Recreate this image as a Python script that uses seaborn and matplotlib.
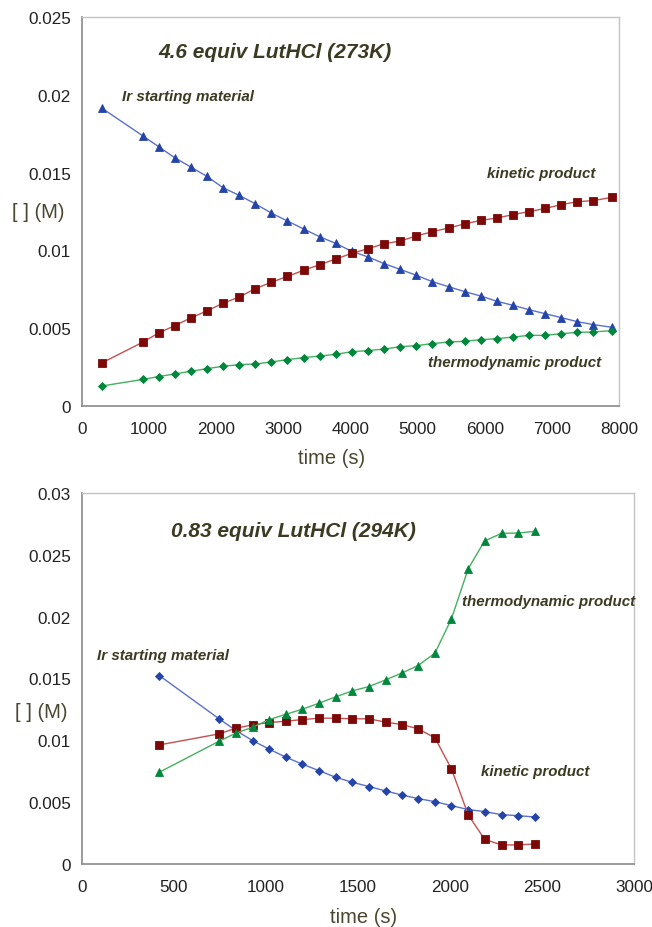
import numpy as np
import pandas as pd
import matplotlib
matplotlib.use('Agg')
import matplotlib.pyplot as plt
import matplotlib.ticker as mticker
import seaborn as sns

# Datos — panel superior (4.6 equiv, 273 K)
t_top = [300, 910, 1140, 1380, 1620, 1860, 2100, 2340, 2580, 2820, 3060, 3300,
         3540, 3780, 4020, 4260, 4500, 4740, 4980, 5220, 5460, 5700, 5940, 6180,
         6420, 6660, 6900, 7140, 7380, 7620, 7890]
ir_top = [0.01913, 0.01735, 0.01667, 0.01596, 0.01536, 0.01476, 0.01403, 0.01354,
          0.01300, 0.01240, 0.01189, 0.01138, 0.01088, 0.01045, 0.00994, 0.00958,
          0.00915, 0.00878, 0.00840, 0.00799, 0.00767, 0.00735, 0.00707, 0.00673,
          0.00647, 0.00619, 0.00593, 0.00568, 0.00542, 0.00523, 0.00506]
kin_top = [0.00278, 0.00411, 0.00469, 0.00516, 0.00566, 0.00611, 0.00660, 0.00700,
           0.00754, 0.00795, 0.00833, 0.00872, 0.00908, 0.00945, 0.00981, 0.01011,
           0.01043, 0.01060, 0.01093, 0.01120, 0.01144, 0.01170, 0.01193, 0.01208,
           0.01230, 0.01249, 0.01270, 0.01294, 0.01313, 0.01320, 0.01341]
thermo_top = [0.00129, 0.00171, 0.00189, 0.00206, 0.00223, 0.00240, 0.00255, 0.00266,
              0.00270, 0.00283, 0.00298, 0.00311, 0.00321, 0.00332, 0.00349, 0.00356,
              0.00366, 0.00381, 0.00388, 0.00401, 0.00411, 0.00416, 0.00426, 0.00433,
              0.00443, 0.00454, 0.00454, 0.00465, 0.00473, 0.00476, 0.00484]

# Datos — panel inferior (0.83 equiv, 294 K)
t_bot = [420, 745, 836, 927, 1018, 1109, 1198, 1288, 1379, 1469, 1560, 1650,
         1737, 1827, 1918, 2008, 2099, 2188, 2280, 2368, 2461]
ir_bot = [0.01524, 0.01174, 0.01080, 0.00998, 0.00928, 0.00863, 0.00807, 0.00755,
          0.00701, 0.00661, 0.00626, 0.00591, 0.00558, 0.00529, 0.00504, 0.00472,
          0.00440, 0.00424, 0.00399, 0.00391, 0.00380]
kin_bot = [0.00963, 0.01052, 0.01098, 0.01125, 0.01144, 0.01155, 0.01168, 0.01179,
           0.01179, 0.01174, 0.01174, 0.01147, 0.01128, 0.01093, 0.01020, 0.00769,
           0.00397, 0.00200, 0.00154, 0.00154, 0.00162]
thermo_bot = [0.00742, 0.00993, 0.01058, 0.01106, 0.01168, 0.01211, 0.01252, 0.01300,
              0.01352, 0.01400, 0.01435, 0.01489, 0.01543, 0.01605, 0.01705, 0.01983,
              0.02388, 0.02612, 0.02674, 0.02676, 0.02690]

sns.set_theme(style='white')
plt.rcParams['font.family'] = ['Liberation Sans', 'DejaVu Sans']

TXT = '#3b3a22'
AXC = '#8a8a8a'

# colores: (linea, marcador)
BLUE = ('#5a70cc', '#2444a8')
RED = ('#c45050', '#7c0808')
GREEN = ('#44b060', '#00873c')

fig = plt.figure(figsize=(6.52, 9.28), dpi=100)
ax1 = fig.add_axes([82/652, 1 - 407/928, 537/652, 389/928])
ax2 = fig.add_axes([82/652, 1 - 865/928, 552/652, 371/928])


def serie(ax, x, y, col, marker, ms):
    sns.lineplot(x=x, y=y, ax=ax, color=col[0], linewidth=1.0,
                 marker=marker, markersize=ms, markerfacecolor=col[1],
                 markeredgecolor=col[1], markeredgewidth=0.6, zorder=3)


def estilo(ax, xmax, xstep, ymax):
    ax.set_xlim(0, xmax)
    ax.set_ylim(0, ymax)
    ax.set_xticks(np.arange(0, xmax + 1, xstep))
    ax.set_yticks(np.arange(0, ymax + 1e-9, 0.005))
    ax.yaxis.set_major_formatter(mticker.FuncFormatter(lambda v, _: f'{v:g}' if v else '0'))
    ax.xaxis.set_major_formatter(mticker.FuncFormatter(lambda v, _: f'{v:.0f}'))
    for s in ['top', 'right']:
        ax.spines[s].set_color('#c4c4c4')
        ax.spines[s].set_linewidth(1.0)
    for s in ['left', 'bottom']:
        ax.spines[s].set_color(AXC)
        ax.spines[s].set_linewidth(1.2)
    ax.tick_params(axis='both', direction='out', length=4, width=1, color=AXC,
                   labelsize=12.3, labelcolor='#222222', pad=4)
    ax.tick_params(axis='x', pad=7)
    ax.set_xlabel('')
    ax.set_ylabel('')


def nota(ax, x, y, s, size=10.9):
    ax.text(x, y, s, fontsize=size, fontweight='bold', fontstyle='italic',
            color=TXT, ha='left', va='center')


# Panel superior
serie(ax1, t_top, ir_top, BLUE, '^', 6)
serie(ax1, t_top, kin_top, RED, 's', 5.5)
serie(ax1, t_top, thermo_top, GREEN, 'D', 4.2)
estilo(ax1, 8000, 1000, 0.025)

nota(ax1, 1130, 0.0228, '4.6 equiv LutHCl (273K)', 15)
nota(ax1, 596, 0.0199, 'Ir starting material')
nota(ax1, 6030, 0.0150, 'kinetic product')
nota(ax1, 5152, 0.00285, 'thermodynamic product')

# Panel inferior
serie(ax2, t_bot, ir_bot, BLUE, 'D', 4.2)
serie(ax2, t_bot, kin_bot, RED, 's', 5.5)
serie(ax2, t_bot, thermo_bot, GREEN, '^', 6)
estilo(ax2, 3000, 500, 0.03)

nota(ax2, 482, 0.02697, '0.83 equiv LutHCl (294K)', 15)
nota(ax2, 80, 0.01691, 'Ir starting material')
nota(ax2, 2063, 0.02126, 'thermodynamic product')
nota(ax2, 2168, 0.00755, 'kinetic product')

# Etiquetas de ejes
LBL = '#4a4630'
fig.text(38/652, 1 - 213/928, '[ ] (M)', fontsize=14.5, color=LBL, ha='center', va='center')
fig.text(41/652, 1 - 712/928, '[ ] (M)', fontsize=14.5, color=LBL, ha='center', va='center')
fig.text(332/652, 1 - 459/928, 'time (s)', fontsize=14.5, color=LBL, ha='center', va='center')
fig.text(364/652, 1 - 918/928, 'time (s)', fontsize=14.5, color=LBL, ha='center', va='center')

fig.savefig('out.png', dpi=100, facecolor='white')
